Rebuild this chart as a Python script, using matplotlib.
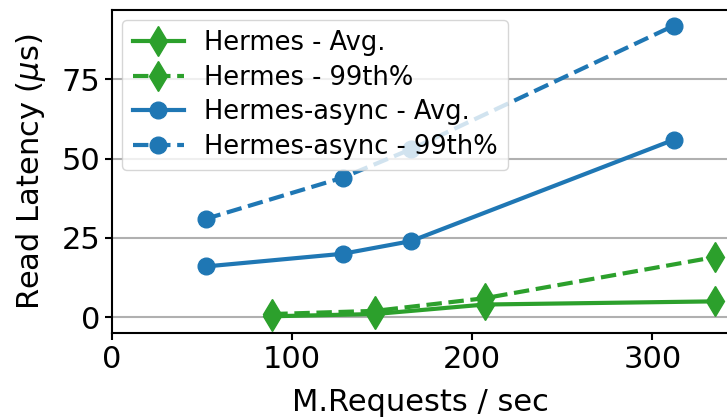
import matplotlib
matplotlib.use("Agg")
import matplotlib.pyplot as plt

# Hermes (green) throughput in M.Requests/sec and read latency in us
hermes_x = [89, 146, 207, 335]
hermes_avg = [0.3, 1, 4, 5]
hermes_p99 = [1, 2, 6, 19]

# Hermes-async (blue)
async_x = [52, 128, 166, 312]
async_avg = [16, 20, 24, 56]
async_p99 = [31, 44, 53, 92]

green = '#2ca02c'
blue = '#1f77b4'

fig = plt.figure(figsize=(7.27, 4.2), dpi=100)
ax = fig.add_axes([0.154, 0.207, 0.85, 0.77])

ax.plot(hermes_x, hermes_avg, color=green, marker='d', markersize=15,
        linewidth=3, label='Hermes - Avg.')
ax.plot(hermes_x, hermes_p99, color=green, marker='d', markersize=15,
        linewidth=3, linestyle='--', label='Hermes - 99th%')
ax.plot(async_x, async_avg, color=blue, marker='o', markersize=12,
        linewidth=3, label='Hermes-async - Avg.')
ax.plot(async_x, async_p99, color=blue, marker='o', markersize=12,
        linewidth=3, linestyle='--', label='Hermes-async - 99th%')

ax.set_xlim(0, 343)
ax.set_ylim(-5, 97)
ax.set_xticks([0, 100, 200, 300])
ax.set_yticks([0, 25, 50, 75])
ax.yaxis.grid(True, color='#b0b0b0', linewidth=1.5)
ax.set_axisbelow(True)
ax.tick_params(labelsize=22, width=1.5, length=5)
for side in ['left', 'top', 'bottom', 'right']:
    ax.spines[side].set_linewidth(1.5)

ax.set_xlabel('M.Requests / sec', fontsize=22, labelpad=10)
ax.set_ylabel(r'Read Latency ($\mu$s)', fontsize=22, labelpad=10)

ax.legend(loc='upper left', fontsize=18.5, handlelength=2.0, framealpha=0.8,
          labelspacing=0.33, borderaxespad=0.4)

fig.savefig('out.png', dpi=100)
